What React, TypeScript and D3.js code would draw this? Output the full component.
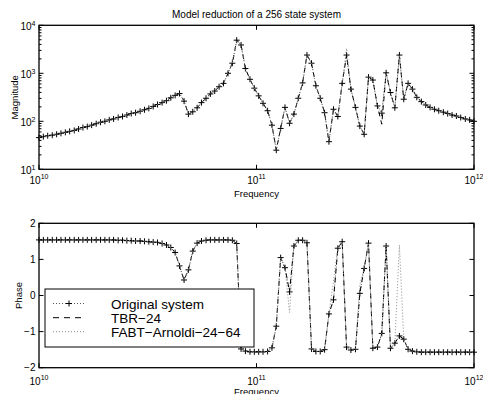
import React from "react";
import * as d3 from "d3";

// frequency grid (decade exponents), 100 points from 1e10 to 1e12
const freqExp = [
  10.0, 10.02, 10.04, 10.061, 10.081, 10.101, 10.121, 10.141, 10.162, 10.182,
  10.202, 10.222, 10.242, 10.263, 10.283, 10.303, 10.323, 10.343, 10.364, 10.384,
  10.404, 10.424, 10.444, 10.465, 10.485, 10.505, 10.525, 10.545, 10.566, 10.586,
  10.606, 10.626, 10.646, 10.667, 10.687, 10.707, 10.727, 10.747, 10.768, 10.788,
  10.808, 10.828, 10.848, 10.869, 10.889, 10.909, 10.929, 10.949, 10.97, 10.99,
  11.01, 11.03, 11.051, 11.071, 11.091, 11.111, 11.131, 11.152, 11.172, 11.192,
  11.212, 11.232, 11.253, 11.273, 11.293, 11.313, 11.333, 11.354, 11.374, 11.394,
  11.414, 11.434, 11.455, 11.475, 11.495, 11.515, 11.535, 11.556, 11.576, 11.596,
  11.616, 11.636, 11.657, 11.677, 11.697, 11.717, 11.737, 11.758, 11.778, 11.798,
  11.818, 11.838, 11.859, 11.879, 11.899, 11.919, 11.939, 11.96, 11.98, 12.0,
];

const magOriginal = [
  45.7, 47.9, 50.1, 51.3, 53.7, 56.2, 58.9, 61.7, 64.6, 69.2,
  74.1, 77.6, 83.2, 89.1, 95.5, 100, 107, 112, 120, 126,
  135, 145, 151, 162, 174, 186, 204, 224, 245, 269,
  309, 347, 380, 263, 141, 158, 191, 245, 302, 372,
  427, 525, 617, 1000, 1622, 4898, 3890, 1259, 750, 490,
  339, 237, 166, 83, 25, 71, 195, 91, 141, 302,
  631, 2399, 1622, 550, 302, 151, 37.6, 178, 126, 617,
  2399, 468, 195, 79.4, 53.7, 832, 724, 209, 148, 1023,
  398, 191, 2399, 288, 617, 468, 316, 257, 219, 195,
  178, 166, 155, 145, 135, 129, 120, 112, 107, 100,
];

const phaseOriginal = [
  1.54, 1.54, 1.54, 1.54, 1.54, 1.54, 1.54, 1.54, 1.54, 1.54,
  1.54, 1.54, 1.54, 1.54, 1.54, 1.54, 1.54, 1.54, 1.53, 1.53,
  1.52, 1.52, 1.51, 1.51, 1.5, 1.49, 1.48, 1.47, 1.44, 1.4,
  1.33, 1.19, 0.82, 0.43, 0.71, 1.23, 1.45, 1.51, 1.53, 1.54,
  1.54, 1.54, 1.54, 1.54, 1.53, 1.44, -1.48, -1.54, -1.56, -1.56,
  -1.56, -1.56, -1.55, -1.45, -0.85, 1.05, 0.77, 0.1, 1.37, 1.53,
  1.53, 1.46, -1.48, -1.55, -1.55, -1.5, -0.51, -0.12, 1.31, 1.49,
  -1.43, -1.51, -1.49, 0.06, 0.75, 1.45, -1.46, -1.43, -1.05, 1.37,
  -1.46, -1.32, -1.12, -1.21, -1.49, -1.54, -1.56, -1.57, -1.57, -1.57,
  -1.57, -1.57, -1.57, -1.57, -1.57, -1.57, -1.57, -1.57, -1.57, -1.57,
];

// reduced models follow the original except at these [index, value] points
const magTBRDiff: [number, number][] = [[78, 87]];
const magFABTDiff: [number, number][] = [[70, 3311]];
const phaseTBRDiff: [number, number][] = [];
const phaseFABTDiff: [number, number][] = [[57, -0.47], [67, 0.4], [73, 0.3], [82, 1.4]];

const legendLabels = ["Original system", "TBR\u221224", "FABT\u2212Arnoldi\u221224\u221264"];
const freqTicks = [1e10, 1e11, 1e12];
const magTicks = [10, 100, 1000, 10000];
const phaseTicks = [-2, -1, 0, 1, 2];

const FONT = "Liberation Sans, Arial, Helvetica, sans-serif";
const L = 39;
const R = 474;

const withDiff = (base: number[], diff: [number, number][]) => {
  const out = base.slice();
  diff.forEach(([i, v]) => (out[i] = v));
  return out;
};

const freqs = freqExp.map((e) => Math.pow(10, e));

const x = d3.scaleLog().domain([1e10, 1e12]).range([L, R]);

type Panel = {
  top: number;
  bottom: number;
  y: (v: number) => number;
  orig: number[];
  tbr: number[];
  fabt: number[];
};

const plus = (px: number, py: number) =>
  `M${px - 3},${py}h6M${px},${py - 3}v6`;

const Series: React.FC<{ p: Panel }> = ({ p }) => {
  const line = (vals: number[]) =>
    d3
      .line<number>()
      .x((_, i) => x(freqs[i]))
      .y((v) => p.y(v))(vals) || "";
  return (
    <g>
      <path d={line(p.orig)} fill="none" stroke="#555" strokeWidth={1} strokeDasharray="1,2" />
      <path
        d={p.orig.map((v, i) => plus(x(freqs[i]), p.y(v))).join("")}
        fill="none"
        stroke="#000"
        strokeWidth={1}
      />
      <path d={line(p.tbr)} fill="none" stroke="#000" strokeWidth={1} strokeDasharray="5,4" />
      <path d={line(p.fabt)} fill="none" stroke="#888" strokeWidth={1} strokeDasharray="1,2" />
    </g>
  );
};

const XTicks: React.FC<{ top: number; bottom: number; labelY: number }> = ({ top, bottom, labelY }) => (
  <g>
    {freqTicks.map((t) => (
      <g key={t}>
        <line x1={x(t)} x2={x(t)} y1={bottom} y2={bottom - 4.5} stroke="#000" />
        <line x1={x(t)} x2={x(t)} y1={top} y2={top + 4.5} stroke="#000" />
        <text x={x(t)} y={labelY} textAnchor="middle" fontSize={10} fontFamily={FONT}>
          <tspan>10</tspan>
          <tspan dy={-4.5} fontSize={7}>
            {Math.round(Math.log10(t))}
          </tspan>
        </text>
      </g>
    ))}
  </g>
);

const App: React.FC = () => {
  const yMag = d3.scaleLog().domain([10, 1e4]).range([169.3, 25.3]);
  const yPh = d3.scaleLinear().domain([-2, 2]).range([367.7, 223.3]);

  const magPanel: Panel = {
    top: 25.3,
    bottom: 169.3,
    y: yMag,
    orig: magOriginal,
    tbr: withDiff(magOriginal, magTBRDiff),
    fabt: withDiff(magOriginal, magFABTDiff),
  };
  const phPanel: Panel = {
    top: 223.3,
    bottom: 367.7,
    y: yPh,
    orig: phaseOriginal,
    tbr: withDiff(phaseOriginal, phaseTBRDiff),
    fabt: withDiff(phaseOriginal, phaseFABTDiff),
  };

  const minorMag: number[] = [];
  [10, 100, 1000].forEach((d) => {
    for (let m = 2; m <= 9; m++) minorMag.push(d * m);
  });

  const legendRows = [303.5, 317.7, 331.7];

  return (
    <svg
      width={483}
      height={394}
      style={{ position: "absolute", left: 0, top: 0, background: "#fff" }}
    >
      <rect x={0} y={0} width={483} height={394} fill="#fff" />
      {/* title */}
      <text x={256.5} y={17.5} textAnchor="middle" fontSize={10} fontFamily={FONT}>
        Model reduction of a 256 state system
      </text>

      {/* magnitude panel */}
      <Series p={magPanel} />
      {magTicks.map((t) => (
        <g key={t}>
          <line x1={L} x2={L + 4.5} y1={yMag(t)} y2={yMag(t)} stroke="#000" />
          <line x1={R} x2={R - 4.5} y1={yMag(t)} y2={yMag(t)} stroke="#000" />
          <text x={35.5} y={yMag(t) + 5} textAnchor="end" fontSize={10} fontFamily={FONT}>
            <tspan>10</tspan>
            <tspan dy={-4.5} fontSize={7}>
              {Math.round(Math.log10(t))}
            </tspan>
          </text>
        </g>
      ))}
      {minorMag.map((t) => (
        <g key={t}>
          <line x1={L} x2={L + 2.5} y1={yMag(t)} y2={yMag(t)} stroke="#000" />
          <line x1={R} x2={R - 2.5} y1={yMag(t)} y2={yMag(t)} stroke="#000" />
        </g>
      ))}
      <XTicks top={25.3} bottom={169.3} labelY={183.5} />
      <rect x={L} y={25.3} width={R - L} height={144} fill="none" stroke="#000" strokeWidth={1.3} />
      <text x={256.5} y={196.5} textAnchor="middle" fontSize={9.5} fontFamily={FONT}>
        Frequency
      </text>
      <text
        transform="translate(17.5,97.3) rotate(-90)"
        textAnchor="middle"
        fontSize={9.5}
        fontFamily={FONT}
      >
        Magnitude
      </text>

      {/* phase panel */}
      <Series p={phPanel} />
      {phaseTicks.map((t) => (
        <g key={t}>
          <line x1={L} x2={L + 4.5} y1={yPh(t)} y2={yPh(t)} stroke="#000" />
          <line x1={R} x2={R - 4.5} y1={yPh(t)} y2={yPh(t)} stroke="#000" />
          <text x={35.5} y={yPh(t) + 3.5} textAnchor="end" fontSize={10} fontFamily={FONT}>
            {t < 0 ? `\u2212${-t}` : t}
          </text>
        </g>
      ))}
      <XTicks top={223.3} bottom={367.7} labelY={384.5} />
      <rect x={L} y={223.3} width={R - L} height={144.4} fill="none" stroke="#000" strokeWidth={1.3} />
      <text x={256.5} y={394.5} textAnchor="middle" fontSize={9.5} fontFamily={FONT}>
        Frequency
      </text>
      <text
        transform="translate(21.5,295.5) rotate(-90)"
        textAnchor="middle"
        fontSize={9.5}
        fontFamily={FONT}
      >
        Phase
      </text>

      {/* legend */}
      <rect x={45} y={289} width={209} height={58} fill="#fff" stroke="#000" strokeWidth={1} />
      <line x1={53} x2={85} y1={legendRows[0]} y2={legendRows[0]} stroke="#555" strokeDasharray="1,2" />
      <path d={plus(69, legendRows[0])} stroke="#000" fill="none" />
      <line x1={53} x2={85} y1={legendRows[1]} y2={legendRows[1]} stroke="#000" strokeDasharray="6,5" />
      <line x1={53} x2={85} y1={legendRows[2]} y2={legendRows[2]} stroke="#888" strokeDasharray="1,2" />
      {legendLabels.map((s, i) => (
        <text key={s} x={111} y={legendRows[i] + 5} fontSize={13.5} fontFamily={FONT}>
          {s}
        </text>
      ))}
    </svg>
  );
};

export default App;
